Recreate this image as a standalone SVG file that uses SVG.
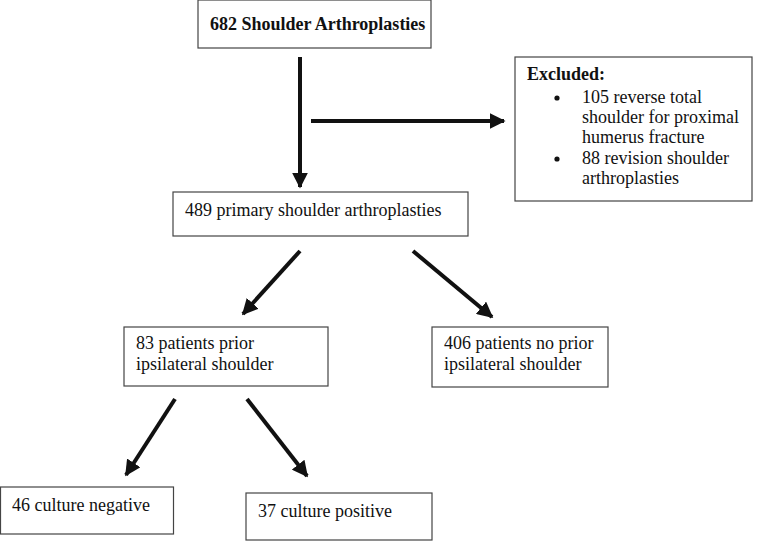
<svg xmlns="http://www.w3.org/2000/svg" width="762" height="541" viewBox="0 0 762 541">
<style>
.box{fill:#fff;stroke:#444;stroke-width:1.2}
.t{font-size:18px;fill:#111}
.b{font-weight:bold}
.arr{stroke:#111;stroke-width:4;fill:none}
</style>
<defs>
<marker id="ah" viewBox="0 0 10 10" refX="9" refY="5" markerWidth="4" markerHeight="4" orient="auto" markerUnits="strokeWidth">
<path d="M0,0 L10,5 L0,10 Z" fill="#111"/>
</marker>
</defs>
<rect width="762" height="541" fill="#fff"/>
<g id="connectors">
<line class="arr" x1="300" y1="57" x2="300" y2="187" marker-end="url(#ah)"/>
<line class="arr" x1="311" y1="121" x2="504" y2="121" stroke-width="3" marker-end="url(#ah)"/>
<line class="arr" x1="300" y1="251" x2="243" y2="314" marker-end="url(#ah)"/>
<line class="arr" x1="413" y1="251" x2="492" y2="317" marker-end="url(#ah)"/>
<line class="arr" x1="175" y1="399" x2="126" y2="475" marker-end="url(#ah)"/>
<line class="arr" x1="247" y1="399" x2="307" y2="476" marker-end="url(#ah)"/>
</g>
<g font-family="Liberation Serif, Times New Roman, serif">
<g id="n682">
<rect class="box" x="198" y="0" width="233" height="48"/>
<text class="t b" x="210" y="30" font-size="16.3">682 Shoulder Arthroplasties</text>
</g>
<g id="excluded">
<rect class="box" x="515" y="57" width="237" height="144"/>
<text class="t b" x="527" y="80">Excluded:</text>
<circle cx="557" cy="98" r="2.6" fill="#111"/>
<text class="t" x="582" y="103">105 reverse total</text>
<text class="t" x="582" y="123">shoulder for proximal</text>
<text class="t" x="582" y="143">humerus fracture</text>
<circle cx="557" cy="159" r="2.6" fill="#111"/>
<text class="t" x="582" y="164">88 revision shoulder</text>
<text class="t" x="582" y="184">arthroplasties</text>
</g>
<g id="n489">
<rect class="box" x="173" y="192" width="295" height="44"/>
<text class="t" x="185" y="216">489 primary shoulder arthroplasties</text>
</g>
<g id="n83">
<rect class="box" x="124" y="327" width="204" height="59"/>
<text class="t" x="136" y="349">83 patients prior</text>
<text class="t" x="136" y="370">ipsilateral shoulder</text>
</g>
<g id="n406">
<rect class="box" x="432" y="327" width="176" height="60"/>
<text class="t" x="444" y="349">406 patients no prior</text>
<text class="t" x="444" y="370">ipsilateral shoulder</text>
</g>
<g id="n46">
<rect class="box" x="0.5" y="487" width="173" height="47"/>
<text class="t" x="12" y="511">46 culture negative</text>
</g>
<g id="n37">
<rect class="box" x="246" y="493" width="186" height="47"/>
<text class="t" x="258" y="517">37 culture positive</text>
</g>
</g>
</svg>
